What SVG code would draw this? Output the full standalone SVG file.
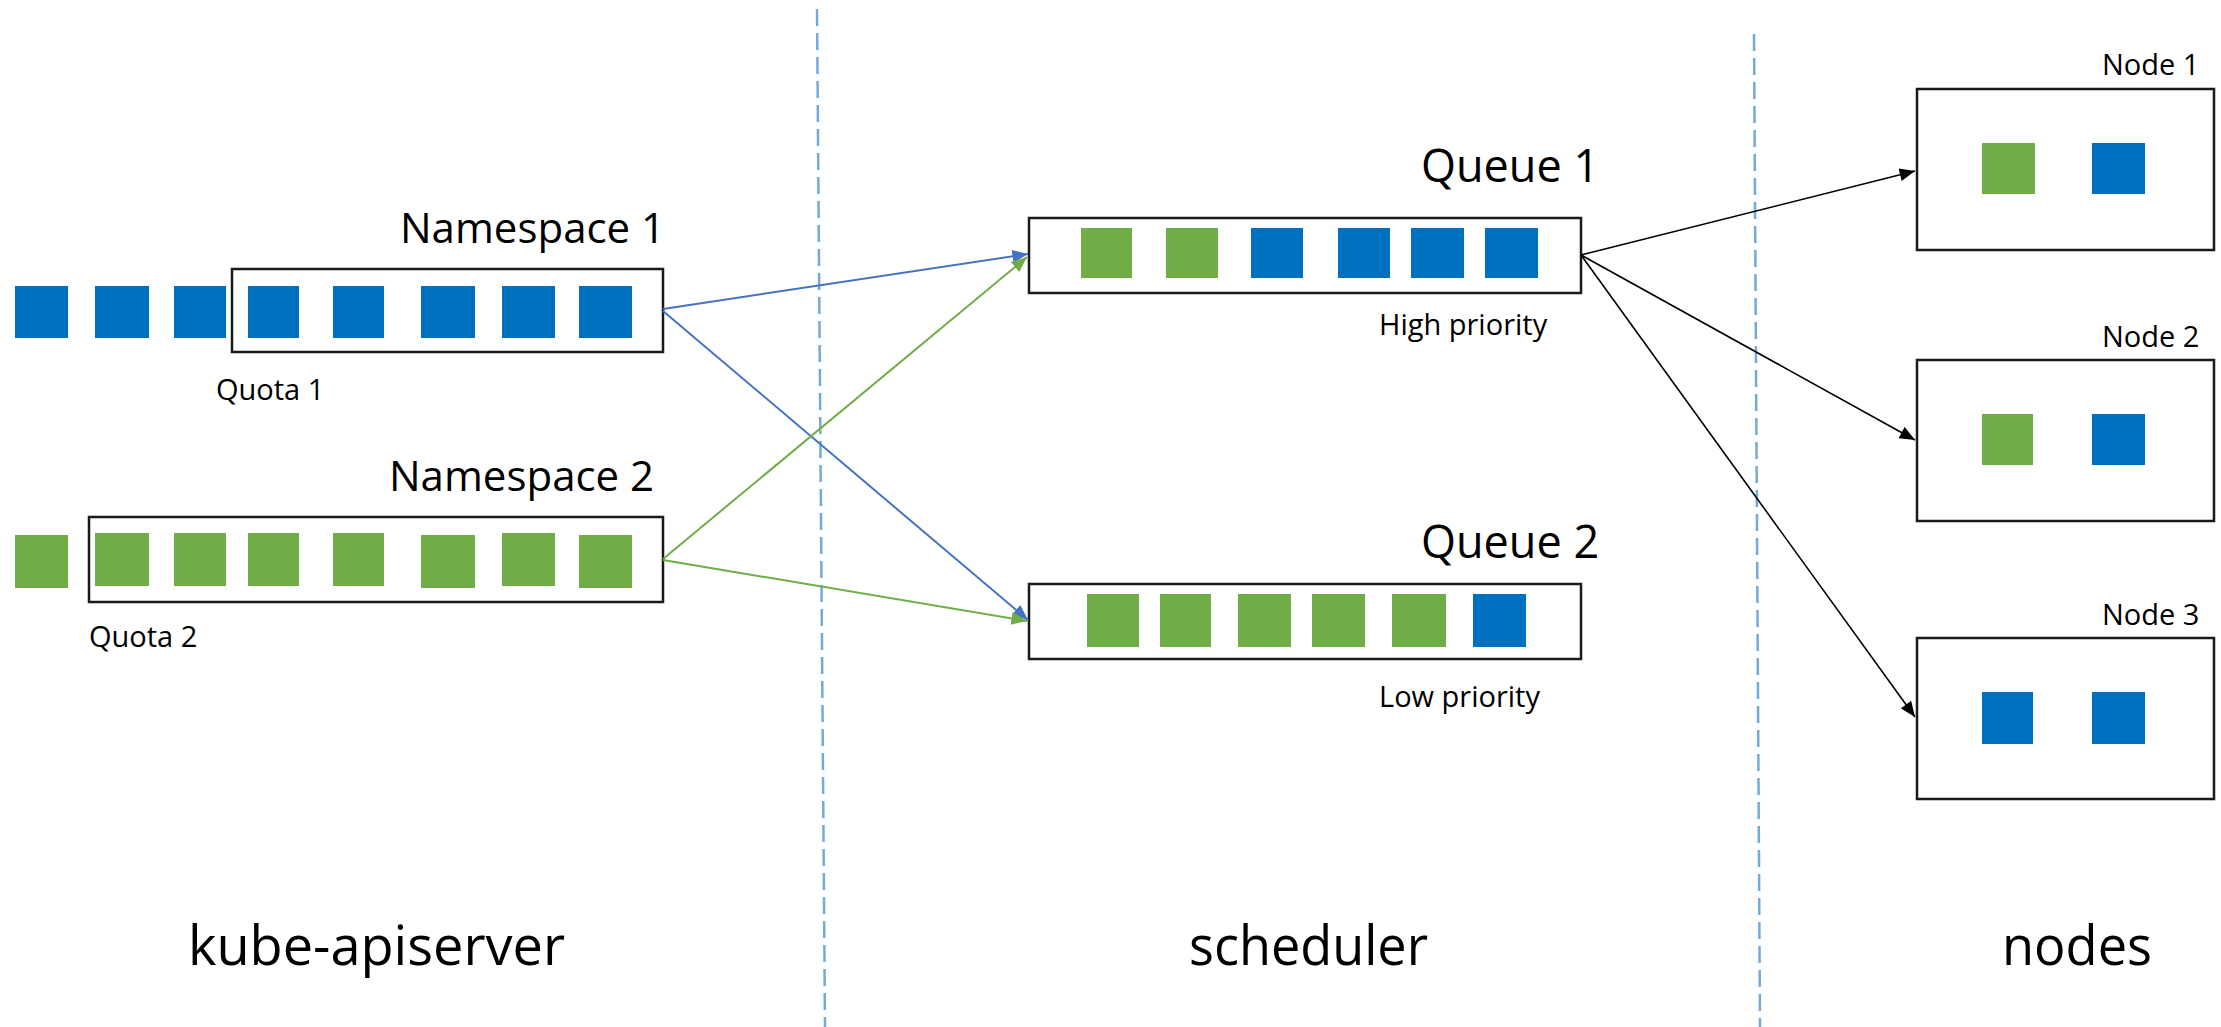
<svg xmlns="http://www.w3.org/2000/svg" width="2221" height="1027" viewBox="0 0 2221 1027">
<style>
.box{fill:#fff;stroke:#1a1a1a;stroke-width:2.5}
.g{fill:#70AD47}
.b{fill:#0070C0}
.t{font-family:"Open Sans","Liberation Sans",sans-serif;fill:#000}
.big{font-size:42px}
.q{font-size:45px}
.sm{font-size:29px}
.lbl{font-size:54px}
.div{stroke:#5B9BD5;stroke-width:2.5;stroke-dasharray:17 7;opacity:0.85;fill:none}
.cb{stroke:#4472C4;stroke-width:2;fill:none}
.cg{stroke:#70AD47;stroke-width:2;fill:none}
.ck{stroke:#000;stroke-width:1.6;fill:none}
</style>
<defs>
<marker id="ab" viewBox="0 0 12 10" refX="12" refY="5" markerWidth="8" markerHeight="6.5" markerUnits="strokeWidth" orient="auto"><path d="M0,0 L12,5 L0,10 z" fill="#4472C4"/></marker>
<marker id="ag" viewBox="0 0 12 10" refX="12" refY="5" markerWidth="8" markerHeight="6.5" markerUnits="strokeWidth" orient="auto"><path d="M0,0 L12,5 L0,10 z" fill="#70AD47"/></marker>
<marker id="ak" viewBox="0 0 12 10" refX="12" refY="5" markerWidth="10" markerHeight="8" markerUnits="strokeWidth" orient="auto"><path d="M0,0 L12,5 L0,10 z" fill="#000"/></marker>
</defs>
<rect width="2221" height="1027" fill="#fff"/>
<g id="dividers">
<line class="div" x1="817" y1="9" x2="825" y2="1027"/>
<line class="div" x1="1754" y1="34" x2="1760" y2="1027"/>
</g>
<g id="namespace1">
<text class="t big" x="400" y="243">Namespace 1</text>
<rect class="b" x="15" y="286" width="53" height="52"/>
<rect class="b" x="95" y="286" width="54" height="52"/>
<rect class="b" x="174" y="286" width="52" height="52"/>
<rect class="box" x="232" y="269" width="431" height="83"/>
<rect class="b" x="248" y="286" width="51" height="52"/>
<rect class="b" x="333" y="286" width="51" height="52"/>
<rect class="b" x="421" y="286" width="54" height="52"/>
<rect class="b" x="502" y="286" width="53" height="52"/>
<rect class="b" x="579" y="286" width="53" height="52"/>
<text class="t sm" x="216" y="400">Quota 1</text>
</g>
<g id="namespace2">
<text class="t big" x="389" y="491">Namespace 2</text>
<rect class="g" x="15" y="535" width="53" height="53"/>
<rect class="box" x="89" y="517" width="574" height="85"/>
<rect class="g" x="95" y="533" width="54" height="53"/>
<rect class="g" x="174" y="533" width="52" height="53"/>
<rect class="g" x="248" y="533" width="51" height="53"/>
<rect class="g" x="333" y="533" width="51" height="53"/>
<rect class="g" x="421" y="535" width="54" height="53"/>
<rect class="g" x="502" y="533" width="53" height="53"/>
<rect class="g" x="579" y="535" width="53" height="53"/>
<text class="t sm" x="89" y="647">Quota 2</text>
</g>
<g id="queue1">
<text class="t q" x="1421" y="182">Queue 1</text>
<rect class="box" x="1029" y="218" width="552" height="75"/>
<rect class="g" x="1081" y="228" width="51" height="50"/>
<rect class="g" x="1166" y="228" width="52" height="50"/>
<rect class="b" x="1251" y="228" width="52" height="50"/>
<rect class="b" x="1338" y="228" width="52" height="50"/>
<rect class="b" x="1411" y="228" width="53" height="50"/>
<rect class="b" x="1485" y="228" width="53" height="50"/>
<text class="t sm" x="1379" y="335">High priority</text>
</g>
<g id="queue2">
<text class="t q" x="1421" y="558">Queue 2</text>
<rect class="box" x="1029" y="584" width="552" height="75"/>
<rect class="g" x="1087" y="594" width="52" height="53"/>
<rect class="g" x="1160" y="594" width="51" height="53"/>
<rect class="g" x="1238" y="594" width="53" height="53"/>
<rect class="g" x="1312" y="594" width="53" height="53"/>
<rect class="g" x="1392" y="594" width="54" height="53"/>
<rect class="b" x="1473" y="594" width="53" height="53"/>
<text class="t sm" x="1379" y="707">Low priority</text>
</g>
<g id="node1">
<text class="t sm" x="2102" y="75">Node 1</text>
<rect class="box" x="1917" y="89" width="297" height="161"/>
<rect class="g" x="1982" y="143" width="53" height="51"/>
<rect class="b" x="2092" y="143" width="53" height="51"/>
</g>
<g id="node2">
<text class="t sm" x="2102" y="347">Node 2</text>
<rect class="box" x="1917" y="360" width="297" height="161"/>
<rect class="g" x="1982" y="414" width="51" height="51"/>
<rect class="b" x="2092" y="414" width="53" height="51"/>
</g>
<g id="node3">
<text class="t sm" x="2102" y="625">Node 3</text>
<rect class="box" x="1917" y="638" width="297" height="161"/>
<rect class="b" x="1982" y="692" width="51" height="52"/>
<rect class="b" x="2092" y="692" width="53" height="52"/>
</g>
<g id="connectors">
<line class="cb" x1="663" y1="309" x2="1028" y2="254" marker-end="url(#ab)"/>
<line class="cb" x1="663" y1="311" x2="1028" y2="620" marker-end="url(#ab)"/>
<line class="cg" x1="663" y1="559" x2="1027" y2="257" marker-end="url(#ag)"/>
<line class="cg" x1="663" y1="560" x2="1027" y2="621" marker-end="url(#ag)"/>
<line class="ck" x1="1581" y1="255" x2="1915" y2="171" marker-end="url(#ak)"/>
<line class="ck" x1="1581" y1="255" x2="1915" y2="440" marker-end="url(#ak)"/>
<line class="ck" x1="1581" y1="255" x2="1915" y2="717" marker-end="url(#ak)"/>
</g>
<g id="labels">
<text class="t lbl" x="188" y="965" textLength="377" lengthAdjust="spacingAndGlyphs">kube-apiserver</text>
<text class="t lbl" x="1189" y="965" textLength="239" lengthAdjust="spacingAndGlyphs">scheduler</text>
<text class="t lbl" x="2002" y="965" textLength="150" lengthAdjust="spacingAndGlyphs">nodes</text>
</g>
</svg>
